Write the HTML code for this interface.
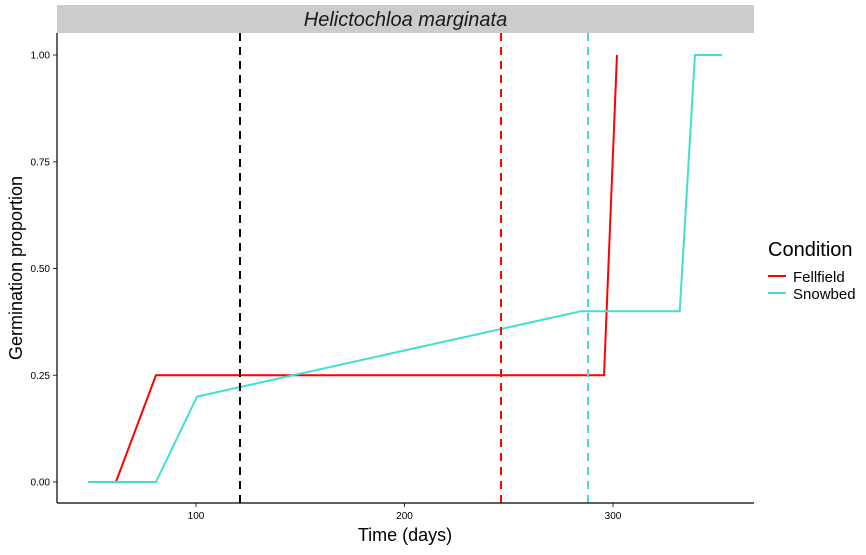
<!DOCTYPE html>
<html><head><meta charset="utf-8"><style>
body{margin:0;background:#fff;}
svg text{font-family:"Liberation Sans",sans-serif;}
</style></head><body>
<svg width="866" height="550" xmlns="http://www.w3.org/2000/svg">
<rect x="57" y="5" width="697" height="28" fill="#cccccc"/>
<text x="405.5" y="26" font-size="20" font-style="italic" text-anchor="middle" fill="#1a1a1a">Helictochloa marginata</text>
<g id="plot"></g>
<line x1="57" y1="33" x2="57" y2="503" stroke="#000" stroke-width="1.2"/>
<line x1="57" y1="503" x2="754" y2="503" stroke="#000" stroke-width="1.2"/>
<text x="405" y="541" font-size="18" text-anchor="middle">Time (days)</text>
<text transform="translate(22,268) rotate(-90)" font-size="18" text-anchor="middle">Germination proportion</text>
<text x="768" y="256" font-size="20">Condition</text>
<line x1="768" y1="276" x2="786" y2="276" stroke="#ff0000" stroke-width="2"/>
<text x="793" y="282" font-size="15">Fellfield</text>
<line x1="768" y1="293" x2="786" y2="293" stroke="#40e0d0" stroke-width="2"/>
<text x="793" y="299" font-size="15">Snowbed</text>
</svg>
<script>
const xTicks=[100,200,300];
const yTicks=[0,0.25,0.5,0.75,1];
const yTickLabels=["0.00","0.25","0.50","0.75","1.00"];
const fellDays=[61.6,80.8,295.7,301.9];
const fellProp=[0,0.25,0.25,1];
const snowDays=[48.2,80.8,100.5,284.7,332,339.3,352.3];
const snowProp=[0,0,0.2,0.4,0.4,1,1];
const vlineDays=[121.1,246.3,288];
const vlineColors=["#000000","#ff0000","#40e0d0"];
const vlineNames=["vline-overall","vline-fellfield","vline-snowbed"];
const X=d=>-12.5+d*2.085;
const Y=p=>482-p*427;
const NS="http://www.w3.org/2000/svg";
const g=document.getElementById('plot');
function mk(t,a){const e=document.createElementNS(NS,t);for(const k in a)e.setAttribute(k,a[k]);g.appendChild(e);return e;}
xTicks.forEach(t=>{
 const l=mk('line',{x1:X(t),x2:X(t),y1:503,y2:507,stroke:'#333'});
 
 
 const tx=mk('text',{x:X(t),y:519,'font-size':10,'text-anchor':'middle',fill:'#000'});
 tx.textContent=t;
 
 
});
yTicks.forEach((t,i)=>{
 const l=mk('line',{x1:53,x2:57,y1:Y(t),y2:Y(t),stroke:'#333'});
 
 
 const tx=mk('text',{x:50,y:Y(t)+3.5,'font-size':10,'text-anchor':'end',fill:'#000'});
 tx.textContent=yTickLabels[i];
 
 
});
function series(days,prop,color,name){
 const pts=days.map((d,i)=>X(d)+','+Y(prop[i])).join(' ');
 const p=mk('polyline',{points:pts,fill:'none',stroke:color,'stroke-width':2});
 
 
}
series(fellDays,fellProp,'#ff0000','fellfield-line');
series(snowDays,snowProp,'#40e0d0','snowbed-line');
vlineDays.forEach((d,i)=>{
 const l=mk('line',{x1:X(d),x2:X(d),y1:33,y2:503,stroke:vlineColors[i],'stroke-width':2,'stroke-dasharray':'8,6'});
 
 
});
</script>
</body></html>
